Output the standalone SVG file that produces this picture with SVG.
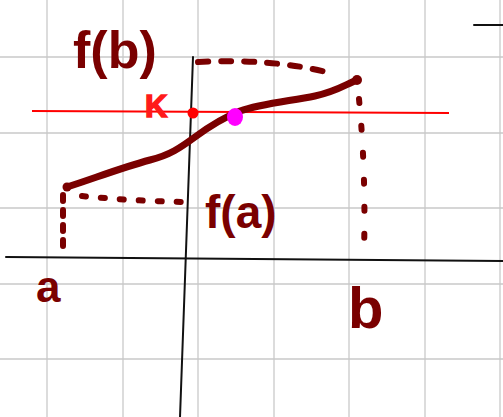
<svg xmlns="http://www.w3.org/2000/svg" width="503" height="417" viewBox="0 0 503 417">
<style>
.grid line{stroke:#c9c9c9;stroke-width:1.3}
.axis{stroke:#111;stroke-width:2;fill:none;stroke-linecap:round}
.ink{stroke:#7a0000;fill:none;stroke-linecap:round;stroke-linejoin:round}
.lbl{font-family:"Liberation Sans",Arial,sans-serif;font-weight:bold;fill:#7a0000}
</style>
<rect width="503" height="417" fill="#fff"/>
<g class="grid">
<line x1="47" y1="0" x2="47" y2="417"/><line x1="123" y1="0" x2="123" y2="417"/><line x1="198" y1="0" x2="198" y2="417"/><line x1="274" y1="0" x2="274" y2="417"/><line x1="349" y1="0" x2="349" y2="417"/><line x1="425" y1="0" x2="425" y2="417"/><line x1="500" y1="0" x2="500" y2="417"/>
<line x1="0" y1="57" x2="503" y2="57"/><line x1="0" y1="133" x2="503" y2="133"/><line x1="0" y1="208" x2="503" y2="208"/><line x1="0" y1="284" x2="503" y2="284"/><line x1="0" y1="359" x2="503" y2="359"/>
</g>
<g id="axes">
<path class="axis" d="M6,257 L503,261"/>
<path class="axis" d="M193,57 L180,417"/>
<path class="axis" d="M474,25 L503,25" stroke-width="2.5"/>
</g>
<g id="guides">
<path class="ink" stroke-width="6" stroke-dasharray="10 13" d="M198,62 Q275,58 334,74"/>
<path class="ink" stroke-width="6" stroke-dasharray="4 23" d="M359,99 Q366,170 364,252"/>
<path class="ink" stroke-width="6" stroke-dasharray="6 9" d="M63,195 L63,253"/>
<path class="ink" stroke-width="6" stroke-dasharray="4 15" d="M82,196 Q130,201 187,202"/>
</g>
<g id="level">
<path d="M32,111 L449,113" stroke="#ff0000" stroke-width="2" fill="none"/>
<circle cx="193" cy="113" r="5.5" fill="#ff0000"/>
<text x="145" y="117" font-family="Liberation Sans,Arial,sans-serif" font-weight="bold" font-size="31" fill="#ff1a1a" stroke="#ff1a1a" stroke-width="1.5">K</text>
</g>
<g id="curve">
<path class="ink" stroke-width="7" d="M67,187 C90,180 120,168 150,160 C170,155 180,148 195,137 C210,126 222,118 240,111 C260,104 290,101 315,96 C335,92 345,85 357,80"/>
<circle cx="67" cy="187" r="4.5" fill="#7a0000"/>
<circle cx="357" cy="80" r="5" fill="#7a0000"/>
</g>
<g id="point">
<ellipse cx="235" cy="117" rx="8" ry="9" fill="#ff00ff"/>
</g>
<g id="labels">
<text class="lbl" x="73" y="68" font-size="52">f(b)</text>
<text class="lbl" x="205" y="228" font-size="46">f(a)</text>
<text class="lbl" x="36" y="302" font-size="44">a</text>
<text class="lbl" x="348" y="328" font-size="58">b</text>
</g>
</svg>
